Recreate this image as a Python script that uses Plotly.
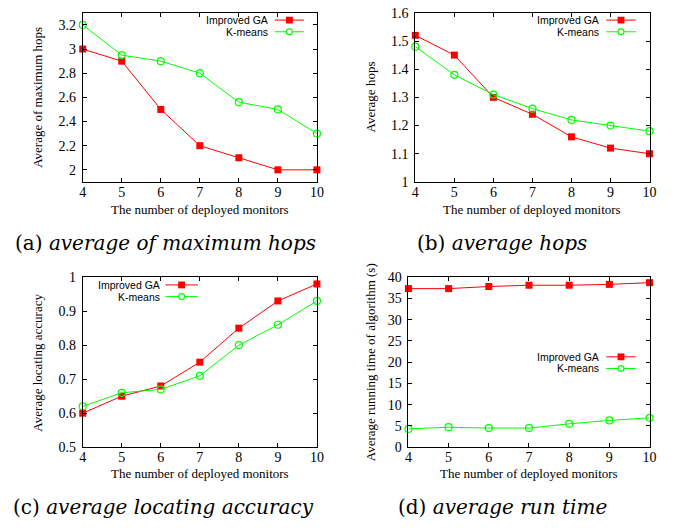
import plotly.graph_objects as go

W, H = 689, 531

monitors = [4, 5, 6, 7, 8, 9, 10]

# (a) average of maximum hops
a_ga = [3.0, 2.9, 2.5, 2.2, 2.1, 2.0, 2.0]
a_km = [3.2, 2.95, 2.9, 2.8, 2.56, 2.5, 2.3]
# (b) average hops
b_ga = [1.52, 1.45, 1.30, 1.24, 1.16, 1.12, 1.10]
b_km = [1.48, 1.38, 1.31, 1.26, 1.22, 1.20, 1.18]
# (c) average locating accuracy
c_ga = [0.60, 0.65, 0.68, 0.75, 0.85, 0.93, 0.98]
c_km = [0.62, 0.66, 0.67, 0.71, 0.80, 0.86, 0.93]
# (d) average run time (s)
d_ga = [37.3, 37.3, 37.8, 38.1, 38.1, 38.3, 38.7]
d_km = [4.3, 4.7, 4.5, 4.5, 5.5, 6.3, 6.9]

series_names = ["Improved GA", "K-means"]
x_title = "The number of deployed monitors"
y_titles = ["Average of maximum hops", "Average hops",
            "Average locating accuracy", "Average running time of algorithm (s)"]
captions = [("(a)", "average of maximum hops"), ("(b)", "average hops"),
            ("(c)", "average locating accuracy"), ("(d)", "average run time")]
y_ranges = [[1.9, 3.3], [1.0, 1.6], [0.5, 1.0], [0, 40]]
y_dticks = [0.2, 0.1, 0.1, 5]

RED = "#ff0000"
GREEN = "#00ff00"
SERIF = "Liberation Serif"
SANS = "Liberation Sans"

# plot boxes in pixels: (left, right, top, bottom)
boxes = [(80, 318, 6, 180), (418, 656, 6, 180), (80, 318, 278, 453), (411, 656, 278, 453)]
ytitle_x = [34, 372, 34, 372]
xtitle_y = [208, 208, 480, 480]
caption_pos = [(9, 243), (418, 243), (7, 515), (398, 515)]
# legend anchors: (text right edge x, line x0, line x1, row1 y, row2 y)
legend_pos = [(269, 275, 305, 13.5, 25.5), (606, 612, 642, 13.5, 25.5),
              (160, 164, 197, 286, 298), (606, 612, 642, 360, 372)]

data = [(a_ga, a_km), (b_ga, b_km), (c_ga, c_km), (d_ga, d_km)]


def px(x):
    return x / W


def py(y):
    return 1 - y / H


fig = go.Figure()
annotations = []
shapes = []

for i, (ga, km) in enumerate(data):
    n = "" if i == 0 else str(i + 1)
    l, r, t, b = boxes[i]
    fig.add_trace(go.Scatter(
        x=monitors, y=ga, mode="lines+markers", name=series_names[0],
        xaxis="x" + n, yaxis="y" + n, showlegend=False, cliponaxis=False,
        line=dict(color=RED, width=1),
        marker=dict(symbol="square", size=7, color=RED)))
    fig.add_trace(go.Scatter(
        x=monitors, y=km, mode="lines+markers", name=series_names[1],
        xaxis="x" + n, yaxis="y" + n, showlegend=False, cliponaxis=False,
        line=dict(color=GREEN, width=1),
        marker=dict(symbol="circle-open", size=7, color=GREEN, line=dict(width=1.2))))

    axcommon = dict(showline=True, linecolor="black", linewidth=1, mirror="ticks",
                    ticks="inside", ticklen=4, tickcolor="black", showgrid=False,
                    zeroline=False, tickfont=dict(family=SERIF, size=14, color="black"))
    fig.layout["xaxis" + n] = dict(domain=[px(l), px(r)], range=[4, 10], dtick=1,
                                   anchor="y" + n, ticklabelstandoff=-3, **axcommon)
    fig.layout["yaxis" + n] = dict(domain=[py(b), py(t)], range=y_ranges[i],
                                   dtick=y_dticks[i], anchor="x" + n,
                                   ticklabelstandoff=3, **axcommon)

    # axis titles
    annotations.append(dict(x=px((l + r) / 2), y=py(xtitle_y[i]), xref="paper", yref="paper",
                            text=x_title, showarrow=False, xanchor="center", yanchor="middle",
                            borderpad=0,
                            font=dict(family=SERIF, size=13, color="black")))
    annotations.append(dict(x=px(ytitle_x[i]), y=py((t + b) / 2), xref="paper", yref="paper",
                            text=y_titles[i], showarrow=False, textangle=-90,
                            xanchor="center", yanchor="middle", borderpad=0,
                            font=dict(family=SERIF, size=13, color="black")))
    # caption
    cx, cy = caption_pos[i]
    lab, cap = captions[i]
    annotations.append(dict(x=px(cx), y=py(cy), xref="paper", yref="paper",
                            text=lab + " <i>" + cap + "</i>", showarrow=False,
                            xanchor="left", yanchor="middle",
                            font=dict(family="DejaVu Serif", size=20, color="black")))
    # legend (gnuplot style: text then sample)
    tx, lx0, lx1, y1, y2 = legend_pos[i]
    for k, (yy, col) in enumerate([(y1, RED), (y2, GREEN)]):
        annotations.append(dict(x=px(tx), y=py(yy), xref="paper", yref="paper",
                                text=series_names[k], showarrow=False,
                                xanchor="right", yanchor="middle", borderpad=0,
                                font=dict(family=SANS, size=10.5, color="black")))
        shapes.append(dict(type="line", xref="paper", yref="paper",
                           x0=px(lx0), x1=px(lx1), y0=py(yy), y1=py(yy),
                           line=dict(color=col, width=1)))
        mx = (lx0 + lx1) / 2
        if k == 0:
            shapes.append(dict(type="rect", xref="paper", yref="paper",
                               x0=px(mx - 3.5), x1=px(mx + 3.5), y0=py(yy + 3.5), y1=py(yy - 3.5),
                               fillcolor=col, line=dict(width=0)))
        else:
            shapes.append(dict(type="circle", xref="paper", yref="paper",
                               x0=px(mx - 3), x1=px(mx + 3), y0=py(yy + 3), y1=py(yy - 3),
                               fillcolor="white", line=dict(color=col, width=1.2)))

fig.update_layout(width=W, height=H, margin=dict(l=0, r=0, t=0, b=0),
                  paper_bgcolor="white", plot_bgcolor="white",
                  annotations=annotations, shapes=shapes, showlegend=False)

fig.write_html("out.html")
